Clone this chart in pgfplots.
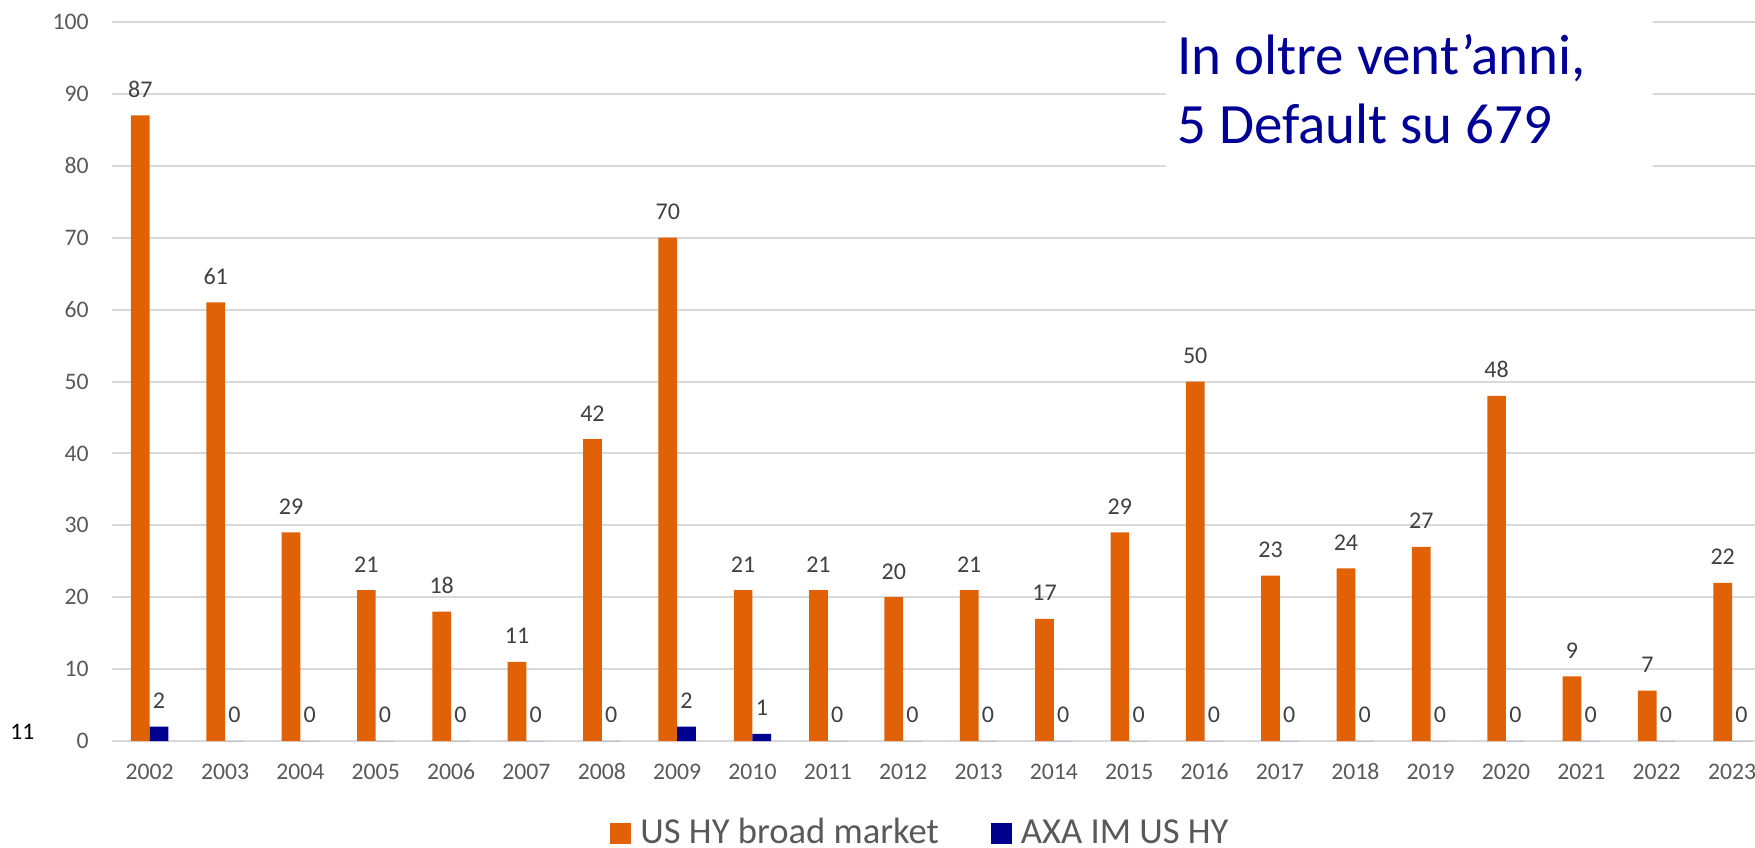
\documentclass[border=0pt]{standalone}
\usepackage{fontspec}
\setmainfont{Carlito}
\usepackage{pgfplots}
\pgfplotsset{compat=1.18}
\definecolor{hyorange}{RGB}{224,97,6}
\definecolor{axanavy}{RGB}{0,0,143}
\definecolor{titlenavy}{RGB}{0,0,150}
\definecolor{gridgray}{RGB}{217,217,217}
\definecolor{ticktext}{RGB}{89,89,89}
\definecolor{labeltext}{RGB}{64,64,64}
\begin{document}
\begin{tikzpicture}
\begin{axis}[
  at={(0,0)}, anchor=south west,
  scale only axis,
  width=821.5pt, height=359.5pt,
  /pgf/number format/assume math mode=true,
  ybar=0pt, bar width=9.35pt,
  xmin=-0.5, xmax=21.305,
  ymin=0, ymax=100,
  ytick={0,10,...,100},
  xtick={0,...,21},
  xticklabels={2002,2003,2004,2005,2006,2007,2008,2009,2010,2011,2012,2013,2014,2015,2016,2017,2018,2019,2020,2021,2022,2023},
  major tick length=0pt,
  axis line style={draw=none},
  ymajorgrids,
  grid style={draw=gridgray, line width=1pt},
  tick label style={font=\fontsize{11.85pt}{14pt}\selectfont, text=ticktext, inner sep=0pt},
  yticklabel style={anchor=east, xshift=-11.5pt},
  xticklabel style={anchor=base, yshift=-19pt},
  clip=false,
  nodes near coords,
  every node near coord/.append style={font=\fontsize{12pt}{14pt}\selectfont, text=labeltext, anchor=south, inner sep=0pt, yshift=8.8pt},
  legend columns=2,
  legend style={at={(axis description cs:0.3031,-0.128)}, anchor=west, draw=none, fill=none, inner sep=0pt,
    font=\fontsize{18.3pt}{22pt}\selectfont, text=ticktext,
    nodes={inner sep=0pt, text height=10.5pt, text depth=0pt},
    /tikz/every even column/.append style={column sep=26pt}},
  legend image code/.code={\fill[#1] (0pt,-5.25pt) rectangle (10.5pt,5.25pt); \path (15pt,0pt);},
]
\addplot[fill=hyorange, draw=none] coordinates {
(0,87) (1,61) (2,29) (3,21) (4,18) (5,11) (6,42) (7,70) (8,21) (9,21) (10,20)
(11,21) (12,17) (13,29) (14,50) (15,23) (16,24) (17,27) (18,48) (19,9) (20,7) (21,22)};
\addlegendentry{US HY broad market}
\addplot[fill=axanavy, draw=none] coordinates {
(0,2) (1,0) (2,0) (3,0) (4,0) (5,0) (6,0) (7,2) (8,1) (9,0) (10,0)
(11,0) (12,0) (13,0) (14,0) (15,0) (16,0) (17,0) (18,0) (19,0) (20,0) (21,0)};
\addlegendentry{AXA IM US HY}
\end{axis}
\fill[white] (527pt,270.5pt) rectangle (770.3pt,372pt);
\node[anchor=base west, inner sep=0pt, text=titlenavy, font=\fontsize{28.5pt}{34pt}\selectfont] at (532.5pt,333pt) {In oltre vent’anni,};
\node[anchor=base west, inner sep=0pt, text=titlenavy, font=\fontsize{28.5pt}{34pt}\selectfont] at (532.5pt,298.5pt) {5 Default su 679};
\node[anchor=base west, inner sep=0pt, text=black, font=\fontsize{11.85pt}{14pt}\selectfont] at (-51pt,1pt) {11};
\pgfresetboundingbox
\useasboundingbox (-56pt,-53pt) rectangle (821.5pt,370.5pt);
\end{tikzpicture}
\end{document}
